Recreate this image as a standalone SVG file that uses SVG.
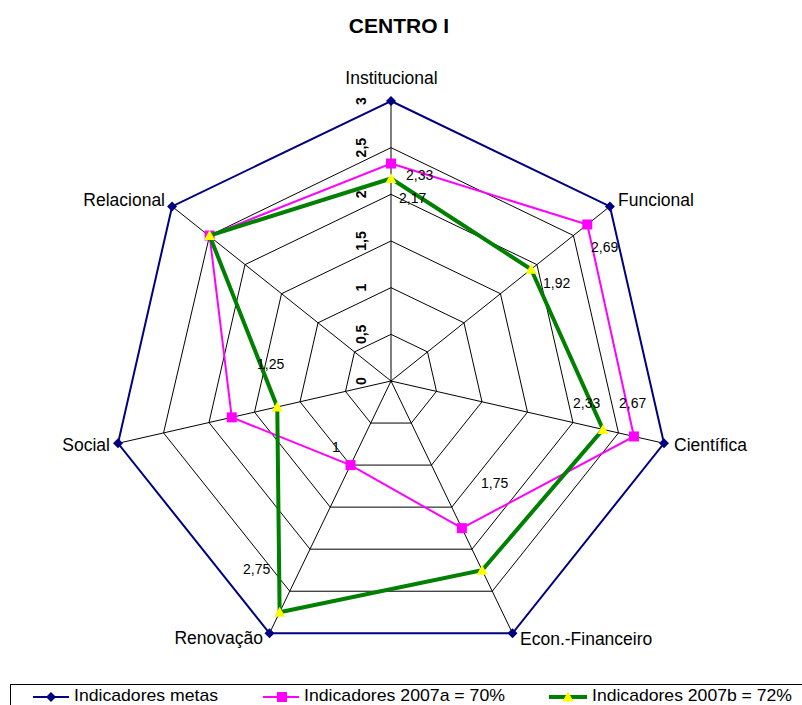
<svg xmlns="http://www.w3.org/2000/svg" xmlns:xlink="http://www.w3.org/1999/xlink" width="802" height="705" viewBox="0 0 802 705">
<style>
text{font-family:"Liberation Sans",Arial,sans-serif;fill:#000}
.ax{font-size:17.5px}
.dl{font-size:14px}
.tk{font-size:14px;font-weight:bold;text-anchor:middle}
.title{font-size:21px;font-weight:bold;text-anchor:middle}
.lg{font-size:17px}
.grid{fill:none;stroke:#000;stroke-width:1}
.blue{fill:none;stroke:#000080;stroke-width:2}
.pink{fill:none;stroke:#FF00FF;stroke-width:2}
.green{fill:none;stroke:#008000;stroke-width:4}
</style>
<defs>
<path id="dia" d="M0,-5 L5,0 L0,5 L-5,0Z" fill="#000080"/>
<rect id="sq" x="-5" y="-5" width="10" height="10" fill="#FF00FF"/>
<path id="tri" d="M0,-5.5 L5.5,4.5 L-5.5,4.5Z" fill="#FFFF00"/>
</defs>
<rect width="802" height="705" fill="#fff"/>
<text class="title" x="399" y="32.5">CENTRO I</text>

<g id="grid" class="grid">
<polygon points="391,334.33 427.49,351.90 436.50,391.38 411.25,423.05 370.75,423.05 345.50,391.38 354.51,351.90"/>
<polygon points="391,287.67 463.97,322.81 481.99,401.77 431.50,465.09 350.50,465.09 300.01,401.77 318.03,322.81"/>
<polygon points="391,241 500.46,293.71 527.49,412.15 451.74,507.14 330.26,507.14 254.51,412.15 281.54,293.71"/>
<polygon points="391,194.33 536.94,264.62 572.99,422.54 471.99,549.18 310.01,549.18 209.01,422.54 245.06,264.62"/>
<polygon points="391,147.67 573.43,235.52 618.48,432.92 492.24,591.23 289.76,591.23 163.52,432.92 209.57,235.52"/>
<path d="M391,381 L391,101 M391,381 L609.91,206.42 M391,381 L663.98,443.31 M391,381 L512.49,633.27 M391,381 L269.51,633.27 M391,381 L118.02,443.31 M391,381 L172.09,206.42"/>
</g>

<g id="ticks">
<text class="tk" transform="translate(366,381) rotate(-90)">0</text>
<text class="tk" transform="translate(366,334.33) rotate(-90)">0,5</text>
<text class="tk" transform="translate(366,287.67) rotate(-90)">1</text>
<text class="tk" transform="translate(366,241) rotate(-90)">1,5</text>
<text class="tk" transform="translate(366,194.33) rotate(-90)">2</text>
<text class="tk" transform="translate(366,147.67) rotate(-90)">2,5</text>
<text class="tk" transform="translate(366,101) rotate(-90)">3</text>
</g>

<g id="series-metas">
<polygon class="blue" points="391,101 609.91,206.42 663.98,443.31 512.49,633.27 269.51,633.27 118.02,443.31 172.09,206.42"/>
<use xlink:href="#dia" x="391" y="101"/>
<use xlink:href="#dia" x="609.91" y="206.42"/>
<use xlink:href="#dia" x="663.98" y="443.31"/>
<use xlink:href="#dia" x="512.49" y="633.27"/>
<use xlink:href="#dia" x="269.51" y="633.27"/>
<use xlink:href="#dia" x="118.02" y="443.31"/>
<use xlink:href="#dia" x="172.09" y="206.42"/>
</g>

<g id="series-2007a">
<polygon class="pink" points="391,163.53 587.29,224.46 633.95,436.45 461.87,528.16 350.50,465.09 231.76,417.35 209.57,235.52"/>
<use xlink:href="#sq" x="391" y="163.53"/>
<use xlink:href="#sq" x="587.29" y="224.46"/>
<use xlink:href="#sq" x="633.95" y="436.45"/>
<use xlink:href="#sq" x="461.87" y="528.16"/>
<use xlink:href="#sq" x="350.50" y="465.09"/>
<use xlink:href="#sq" x="231.76" y="417.35"/>
<use xlink:href="#sq" x="209.57" y="235.52"/>
</g>

<g id="series-2007b">
<polygon class="green" points="391,178.47 531.10,269.27 603.02,429.39 482.12,570.20 279.63,612.25 277.26,406.96 209.57,235.52"/>
<use xlink:href="#tri" x="391" y="178.47"/>
<use xlink:href="#tri" x="531.10" y="269.27"/>
<use xlink:href="#tri" x="603.02" y="429.39"/>
<use xlink:href="#tri" x="482.12" y="570.20"/>
<use xlink:href="#tri" x="279.63" y="612.25"/>
<use xlink:href="#tri" x="277.26" y="406.96"/>
<use xlink:href="#tri" x="209.57" y="235.52"/>
</g>

<g id="axis-labels" class="ax">
<text x="391.5" y="84" text-anchor="middle">Institucional</text>
<text x="618" y="206">Funcional</text>
<text x="674" y="451">Científica</text>
<text x="520" y="645">Econ.-Financeiro</text>
<text x="263" y="644" text-anchor="end">Renovação</text>
<text x="110" y="451" text-anchor="end">Social</text>
<text x="165" y="206" text-anchor="end">Relacional</text>
</g>

<g id="data-labels" class="dl">
<text x="406" y="180">2,33</text>
<text x="399" y="203">2,17</text>
<text x="591" y="252">2,69</text>
<text x="543" y="288">1,92</text>
<text x="573" y="408">2,33</text>
<text x="619" y="408">2,67</text>
<text x="481" y="488">1,75</text>
<text x="332" y="452">1</text>
<text x="243" y="574">2,75</text>
<text x="257" y="369">1,25</text>
</g>

<g id="legend">
<rect x="10.5" y="684.5" width="800" height="30" fill="#fff" stroke="#000" stroke-width="1"/>
<line x1="33" y1="697" x2="69" y2="697" stroke="#000080" stroke-width="2"/>
<use xlink:href="#dia" x="51" y="697"/>
<text class="lg" x="74" y="701" textLength="144" lengthAdjust="spacingAndGlyphs">Indicadores metas</text>
<line x1="263" y1="697" x2="299" y2="697" stroke="#FF00FF" stroke-width="2"/>
<use xlink:href="#sq" x="282" y="697"/>
<text class="lg" x="304" y="701" textLength="201" lengthAdjust="spacingAndGlyphs">Indicadores 2007a = 70%</text>
<line x1="549" y1="697" x2="587" y2="697" stroke="#008000" stroke-width="4"/>
<use xlink:href="#tri" x="568" y="697"/>
<text class="lg" x="592" y="701" textLength="200" lengthAdjust="spacingAndGlyphs">Indicadores 2007b = 72%</text>
</g>
</svg>
